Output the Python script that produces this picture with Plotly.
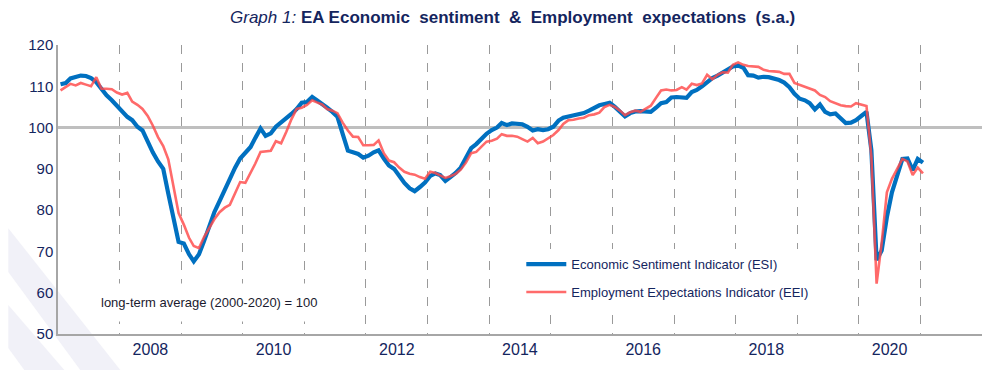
import pandas as pd
import plotly.graph_objects as go

# ---------------- data (monthly, Jan 2007 - Jan 2021) ----------------
esi_2007 = [110.5, 110.8, 111.9, 112.3, 112.6, 112.5, 112.0, 111.0, 109.2, 107.8, 106.6, 105.2]
esi_2008 = [104.0, 102.6, 101.8, 100.2, 99.3, 96.5, 94.0, 91.8, 90.0, 84.0, 77.5, 72.3]
esi_2009 = [71.9, 69.3, 67.6, 69.3, 72.5, 76.0, 79.5, 82.2, 85.0, 88.0, 90.3, 92.5]
esi_2010 = [93.8, 95.3, 97.5, 99.8, 98.0, 98.6, 100.2, 101.2, 102.2, 103.3, 104.5, 106.0]
esi_2011 = [106.2, 107.4, 106.6, 105.8, 104.8, 103.8, 102.6, 98.5, 94.4, 94.0, 93.6, 92.7]
esi_2012 = [93.2, 94.0, 94.5, 92.5, 90.8, 90.0, 88.2, 86.6, 85.3, 84.6, 85.6, 86.7]
esi_2013 = [88.3, 88.9, 88.5, 87.1, 88.0, 89.0, 90.3, 92.5, 95.0, 96.0, 97.3, 98.5]
esi_2014 = [99.4, 100.0, 101.1, 100.6, 101.0, 101.0, 100.8, 100.2, 99.3, 99.6, 99.4, 99.6]
esi_2015 = [100.2, 101.7, 102.4, 102.7, 102.9, 103.1, 103.5, 104.1, 104.9, 105.4, 105.7, 106.0]
esi_2016 = [105.0, 103.9, 102.7, 103.5, 103.9, 104.0, 103.9, 103.8, 104.8, 105.9, 106.2, 107.3]
esi_2017 = [107.4, 107.4, 107.2, 108.6, 109.1, 110.0, 111.0, 112.0, 112.6, 113.3, 114.0, 114.8]
esi_2018 = [115.0, 114.5, 112.7, 112.6, 112.1, 112.3, 112.2, 111.9, 111.5, 110.9, 109.8, 108.2]
esi_2019 = [107.0, 106.6, 105.9, 104.4, 105.6, 103.8, 103.2, 103.4, 102.1, 101.1, 101.2, 101.8]
esi_2020 = [102.8, 103.8, 94.5, 67.9, 70.2, 78.3, 84.3, 88.3, 92.4, 92.5, 89.7, 92.4]
esi_2021 = [91.5]

eei_2007 = [109.0, 109.8, 110.6, 110.2, 110.8, 110.4, 110.0, 112.2, 109.4, 109.4, 109.3, 108.5]
eei_2008 = [108.0, 108.4, 106.3, 105.5, 104.5, 102.8, 100.5, 97.7, 95.5, 92.3, 85.5, 79.3]
eei_2009 = [76.5, 73.3, 71.3, 70.8, 73.5, 75.8, 77.8, 79.5, 80.6, 81.3, 84.0, 86.8]
eei_2010 = [86.6, 88.9, 91.3, 94.1, 94.2, 94.4, 96.7, 96.2, 99.0, 102.0, 104.5, 104.8]
eei_2011 = [105.5, 106.6, 106.1, 105.6, 104.5, 104.1, 103.5, 101.2, 99.3, 97.8, 97.7, 95.7]
eei_2012 = [95.7, 95.8, 96.9, 93.8, 92.0, 91.6, 90.3, 89.3, 88.8, 88.6, 88.0, 87.6]
eei_2013 = [89.3, 89.0, 88.4, 87.8, 88.2, 88.8, 89.8, 91.5, 93.8, 94.1, 95.4, 96.6]
eei_2014 = [96.8, 97.3, 98.4, 98.0, 98.0, 97.8, 97.2, 96.6, 97.5, 96.2, 96.6, 97.3]
eei_2015 = [98.2, 99.4, 100.9, 101.8, 101.9, 102.2, 102.4, 103.0, 103.2, 103.6, 105.0, 105.5]
eei_2016 = [105.0, 104.1, 103.0, 103.7, 104.1, 103.8, 104.6, 105.3, 107.2, 109.0, 109.2, 109.0]
eei_2017 = [109.1, 109.8, 109.2, 110.6, 110.3, 110.7, 112.8, 111.7, 112.8, 113.4, 113.3, 115.2]
eei_2018 = [115.8, 115.2, 114.9, 114.8, 114.7, 114.0, 113.7, 113.6, 113.5, 113.0, 113.0, 110.8]
eei_2019 = [110.3, 109.9, 109.5, 109.0, 107.9, 107.4, 106.4, 105.8, 105.4, 105.2, 105.1, 105.9]
eei_2020 = [105.6, 105.2, 93.0, 62.2, 72.0, 84.3, 87.6, 90.0, 92.4, 91.8, 88.5, 90.3]
eei_2021 = [88.9]

esi = (esi_2007 + esi_2008 + esi_2009 + esi_2010 + esi_2011 + esi_2012 + esi_2013
       + esi_2014 + esi_2015 + esi_2016 + esi_2017 + esi_2018 + esi_2019 + esi_2020 + esi_2021)
eei = (eei_2007 + eei_2008 + eei_2009 + eei_2010 + eei_2011 + eei_2012 + eei_2013
       + eei_2014 + eei_2015 + eei_2016 + eei_2017 + eei_2018 + eei_2019 + eei_2020 + eei_2021)

months = pd.date_range("2007-01-01", periods=len(esi), freq="MS") + pd.Timedelta(days=15)

tick_years = ["2008", "2010", "2012", "2014", "2016", "2018", "2020"]
tick_positions = [f"{y}-07-02" for y in tick_years]

NAVY = "#14255E"
OFF = 8  # page body margin
W, H = 998 - OFF, 370 - OFF
# plot area in page pixels: x 57.7..981.7, y 44.6..334
ML = 57.7 - OFF
MT = 44.6 - OFF
MR = W - (981.7 - OFF)
MB = H - (334 - OFF)
PW, PH = W - ML - MR, H - MT - MB


def px(xp, yp):
    """page pixel -> paper coords"""
    return (xp - OFF - ML) / PW, (H - MB - (yp - OFF)) / PH


fig = go.Figure()
fig.add_trace(go.Scatter(
    x=months, y=esi, mode="lines", name="Economic Sentiment Indicator (ESI)",
    line=dict(color="#0070C0", width=4.2), legendgroup="a"))
fig.add_trace(go.Scatter(
    x=months, y=eei, mode="lines", name="Employment Expectations Indicator (EEI)",
    line=dict(color="#FF4A4A", width=2.6), opacity=0.82, legendgroup="b"))

shapes = []
# faint decorative diagonal bands (bottom-left)
for poly in ([(8, 228), (8, 272), (80, 370), (120, 370)],
             [(8, 305), (8, 348), (24, 370), (64, 370)]):
    pts = [px(a, b) for a, b in poly]
    path = "M " + " L ".join(f"{a:.4f},{b:.4f}" for a, b in pts) + " Z"
    shapes.append(dict(type="path", path=path, xref="paper", yref="paper",
                       fillcolor="#F1F1F8", line=dict(width=0), layer="below"))
# long-term average line at 100
shapes.append(dict(type="line", xref="paper", x0=0, x1=1, yref="y", y0=100, y1=100,
                   line=dict(color="#BFBFBF", width=3), layer="below"))

fig.update_layout(
    width=W, height=H,
    margin=dict(l=ML, r=MR, t=MT, b=MB, pad=0),
    paper_bgcolor="white", plot_bgcolor="rgba(0,0,0,0)",
    shapes=shapes,
    showlegend=True,
    legend=dict(x=px(521, 0)[0], y=px(0, 249)[1], xanchor="left", yanchor="top",
                bgcolor="white", font=dict(family="Liberation Sans, Arial", size=13, color=NAVY),
                tracegroupgap=8, itemwidth=40),
    annotations=[
        dict(text="<i>Graph 1:</i> <b>EA Economic&nbsp; sentiment&nbsp; &amp;&nbsp; Employment&nbsp; expectations&nbsp; (s.a.)</b>",
             xref="paper", yref="paper", x=px(512, 0)[0], y=px(0, 17)[1],
             xanchor="center", yanchor="middle", showarrow=False,
             font=dict(family="Liberation Sans Narrow, Arial Narrow, Liberation Sans", size=17, color=NAVY)),
        dict(text="long-term average (2000-2020) = 100",
             xref="paper", yref="paper", x=px(209, 0)[0], y=px(0, 302)[1],
             xanchor="center", yanchor="middle", showarrow=False,
             bgcolor="white", borderpad=11,
             font=dict(family="Liberation Sans, Arial", size=13, color="#1A1A2E")),
    ],
)

fig.update_xaxes(
    type="date", range=["2007-01-01", "2022-01-01"],
    tickmode="array", tickvals=tick_positions, ticktext=tick_years,
    showgrid=False, ticks="", zeroline=False,
    showline=True, linecolor="#A6A6A6", linewidth=1.5,
    tickfont=dict(family="Liberation Sans Narrow, Arial Narrow, Liberation Sans", size=16, color=NAVY),
    minor=dict(tick0="2007-01-01", dtick="M12", showgrid=True, gridcolor="#9A9A9A",
               griddash="dash", gridwidth=1, ticks=""),
)
fig.update_yaxes(
    range=[50, 120], tickvals=[50, 60, 70, 80, 90, 100, 110, 120],
    showgrid=False, ticks="", zeroline=False,
    showline=True, linecolor="#A6A6A6", linewidth=1.5,
    tickfont=dict(family="Liberation Sans, Arial", size=15, color=NAVY),
)

fig.write_html("out.html")
